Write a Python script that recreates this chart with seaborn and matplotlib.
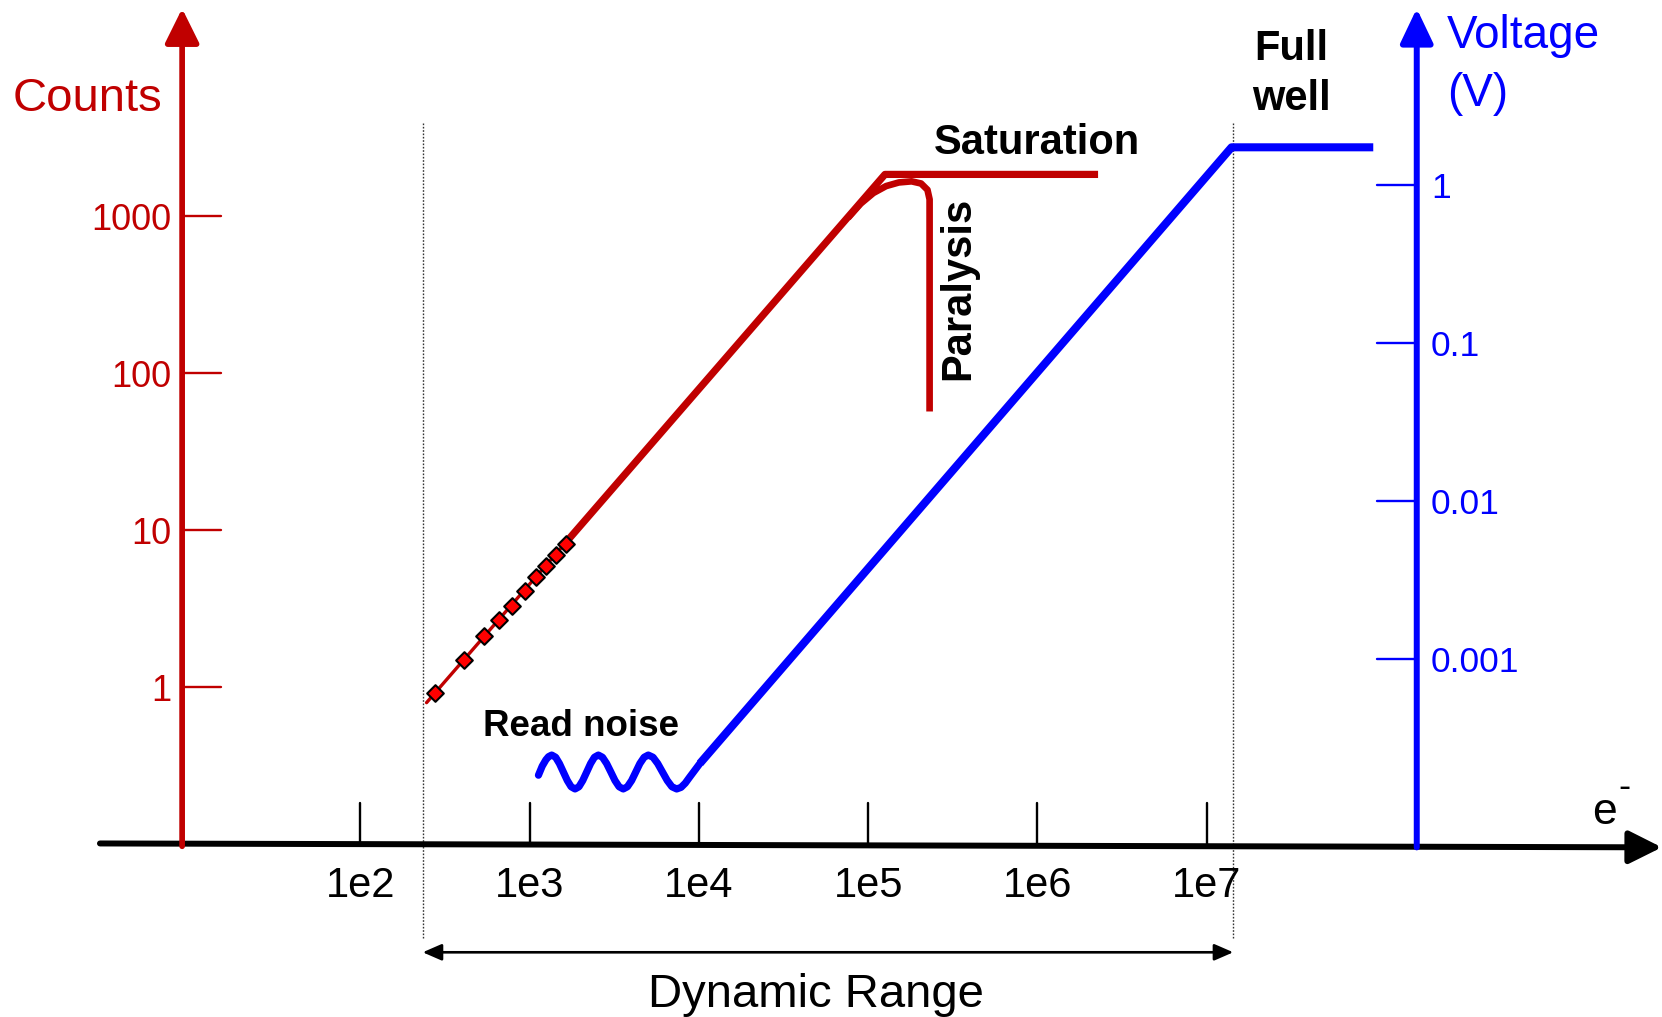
import math
import matplotlib
matplotlib.use("Agg")
import matplotlib.pyplot as plt
import seaborn as sns

sns.set_theme(style="white")
plt.rcParams["font.family"] = ["Liberation Sans", "DejaVu Sans"]

RED = "#C00000"
BLUE = "#0000FF"

# ---------------- data ----------------
x_tick_values = [1e2, 1e3, 1e4, 1e5, 1e6, 1e7]
x_tick_labels = ["1e2", "1e3", "1e4", "1e5", "1e6", "1e7"]
count_tick_values = [1, 10, 100, 1000]
count_tick_labels = ["1", "10", "100", "1000"]
volt_tick_values = [1, 0.1, 0.01, 0.001]
volt_tick_labels = ["1", "0.1", "0.01", "0.001"]

# photon-counting detector (counts vs electrons)
low_e = [246, 1693]
low_counts = [0.797, 8.72]
marker_e = [276, 411, 540, 661, 789, 938, 1087, 1248, 1429, 1633]
marker_counts = [0.92, 1.49, 2.11, 2.69, 3.31, 4.10, 5.00, 5.92, 7.0, 8.15]
high_e = [1693, 125600, 2280000]
high_counts = [8.72, 1850, 1850]
paralysis_e = [75950, 90280, 107300, 127600, 151700, 180400, 205300, 223900, 230500, 230500]
paralysis_counts = [977, 1205, 1408, 1559, 1644, 1671, 1619, 1476, 1282, 57.1]

# integrating detector (voltage vs electrons): read-noise wiggle then linear rise
noise_e = [1127, 1186, 1247, 1293, 1350,
           1424, 1499, 1582, 1669, 1758, 1854,
           1955, 2059, 2172, 2291, 2413, 2545,
           2693, 2849, 3018, 3192, 3377, 3572,
           3779, 4003, 4234, 4479, 4745, 5020,
           5356, 5707, 6091, 6499, 6924, 7389,
           7839, 8304, 8797, 9386, 10145]
noise_volts = [1.827e-4, 2.084e-4, 2.286e-4, 2.394e-4, 2.451e-4,
               2.373e-4, 2.166e-4, 1.913e-4, 1.691e-4, 1.544e-4, 1.495e-4,
               1.544e-4, 1.691e-4, 1.913e-4, 2.166e-4, 2.373e-4, 2.451e-4,
               2.373e-4, 2.166e-4, 1.913e-4, 1.691e-4, 1.544e-4, 1.495e-4,
               1.544e-4, 1.691e-4, 1.913e-4, 2.166e-4, 2.373e-4, 2.451e-4,
               2.373e-4, 2.166e-4, 1.913e-4, 1.691e-4, 1.544e-4, 1.495e-4,
               1.530e-4, 1.627e-4, 1.771e-4, 1.943e-4, 2.172e-4]
linear_e = [10145, 1.401e7, 9.63e7]
linear_volts = [2.172e-4, 1.72, 1.72]

# dynamic range limits (electrons)
dyn_range = [233.4, 1.434e7]

# ---------------- figure ----------------
W, H = 1568.0, 959.0
fig = plt.figure(figsize=(16.62, 10.17), dpi=100)
ax = fig.add_axes([0, 0, 1, 1])
ax.set_xscale("log")
ax.set_yscale("log")
ax2 = ax.twinx()
ax2.set_yscale("log")


def fx(px):
    return px / W


def fy(py):
    return 1 - py / H


def line(axis, xs, ys, **kw):
    sns.lineplot(x=xs, y=ys, ax=axis, estimator=None, sort=False, legend=False, **kw)


# red curves
line(ax, low_e, low_counts, color=RED, lw=2.4, zorder=4)
line(ax, high_e, high_counts, color=RED, lw=5.2, zorder=4, solid_capstyle="butt")
line(ax, paralysis_e, paralysis_counts, color=RED, lw=4.8, zorder=4,
     solid_capstyle="butt", solid_joinstyle="round")
sns.scatterplot(x=marker_e, y=marker_counts, ax=ax, marker="D", s=72, color="#FF0000",
                edgecolor="black", linewidth=1.5, zorder=6, legend=False)

# blue curves
line(ax2, noise_e, noise_volts, color=BLUE, lw=5.2, zorder=4,
     solid_joinstyle="round", solid_capstyle="round")
line(ax2, linear_e, linear_volts, color=BLUE, lw=5.8, zorder=4, solid_capstyle="butt")

# ---------------- custom axes ----------------
# x axis (electrons)
ax.annotate("", xy=(4.88e9, 0.0954), xytext=(2.894, 0.101),
            arrowprops=dict(arrowstyle="-|>,head_length=1.0,head_width=0.5", lw=4.3,
                            color="black", shrinkA=0, shrinkB=0, mutation_scale=20),
            annotation_clip=False, zorder=3)
for xv in x_tick_values:
    line(ax, [xv, xv], [0.0985, 0.182], color="black", lw=1.7, zorder=3)
for xv, lab in zip(x_tick_values, x_tick_labels):
    px = 340 + 159.7 * (math.log10(xv) - 2)
    fig.text(fx(px), fy(846), lab, ha="center", va="baseline", fontsize=30, color="black")

# red counts axis
ax.annotate("", xy=(8.85, 21090), xytext=(8.85, 0.0969),
            arrowprops=dict(arrowstyle="-|>,head_length=1.05,head_width=0.52", lw=4.1,
                            color=RED, shrinkA=0, shrinkB=0, mutation_scale=20),
            annotation_clip=False, zorder=3)
for cv in count_tick_values:
    line(ax, [8.85, 15.1], [cv, cv], color=RED, lw=1.7, zorder=3)
for cv, lab in zip(count_tick_values, count_tick_labels):
    py = 648 - 148 * math.log10(cv)
    fig.text(fx(162), fy(py + 13), lab, ha="right", va="baseline", fontsize=26, color=RED)
fig.text(fx(82.5), fy(105), "Counts", ha="center", va="baseline", fontsize=34, color=RED)

# blue voltage axis
ax2.annotate("", xy=(1.74e8, 13.0), xytext=(1.74e8, 6.38e-5),
             arrowprops=dict(arrowstyle="-|>,head_length=1.05,head_width=0.5", lw=4.3,
                             color=BLUE, shrinkA=0, shrinkB=0, mutation_scale=20),
             annotation_clip=False, zorder=3)
for vv in volt_tick_values:
    line(ax2, [1.02e8, 1.74e8], [vv, vv], color=BLUE, lw=1.7, zorder=3)
for vv, lab in zip(volt_tick_values, volt_tick_labels):
    py = 174 - 149 * math.log10(vv)
    fig.text(fx(1350), fy(py + 13), lab, ha="left", va="baseline", fontsize=25.5, color=BLUE)
fig.text(fx(1365), fy(45), "Voltage", ha="left", va="baseline", fontsize=33, color=BLUE)
fig.text(fx(1365), fy(100), "(V)", ha="left", va="baseline", fontsize=33, color=BLUE)

# dynamic range
for xv in dyn_range:
    line(ax, [xv, xv], [0.0252, 3993], color="#333333", lw=1.0, zorder=2,
         linestyle=(0, (1.2, 1.2)))
ax.annotate("", xy=(dyn_range[1], 0.02046), xytext=(dyn_range[0], 0.02046),
            arrowprops=dict(arrowstyle="<|-|>,head_length=1.15,head_width=0.5", lw=1.9,
                            color="black", shrinkA=0, shrinkB=0, mutation_scale=10),
            annotation_clip=False, zorder=3)
fig.text(fx(770), fy(950), "Dynamic Range", ha="center", va="baseline", fontsize=34,
         color="black")

# annotations
fig.text(fx(978), fy(145), "Saturation", ha="center", va="baseline", fontsize=30,
         fontweight="bold", color="black")
fig.text(fx(904), fy(272), "Paralysis", ha="center", va="center", rotation=90,
         fontsize=30, fontweight="bold", color="black")
fig.text(fx(548), fy(694), "Read noise", ha="center", va="baseline", fontsize=26.5,
         fontweight="bold", color="black")
fig.text(fx(1218), fy(57), "Full", ha="center", va="baseline", fontsize=30,
         fontweight="bold", color="black")
fig.text(fx(1218), fy(104), "well", ha="center", va="baseline", fontsize=30,
         fontweight="bold", color="black")
fig.text(fx(1514), fy(777), "e", ha="center", va="baseline", fontsize=32, color="black")
fig.text(fx(1533), fy(752), "-", ha="center", va="baseline", fontsize=26, color="black")

ax.set_xlim(10 ** -0.1290, 10 ** 9.6894)
ax.set_ylim(10 ** -2.1014, 10 ** 4.3784)
ax2.set_ylim(10 ** -5.2685, 10 ** 1.1678)
ax.axis("off")
ax2.axis("off")

fig.savefig("out.png", dpi=100)
